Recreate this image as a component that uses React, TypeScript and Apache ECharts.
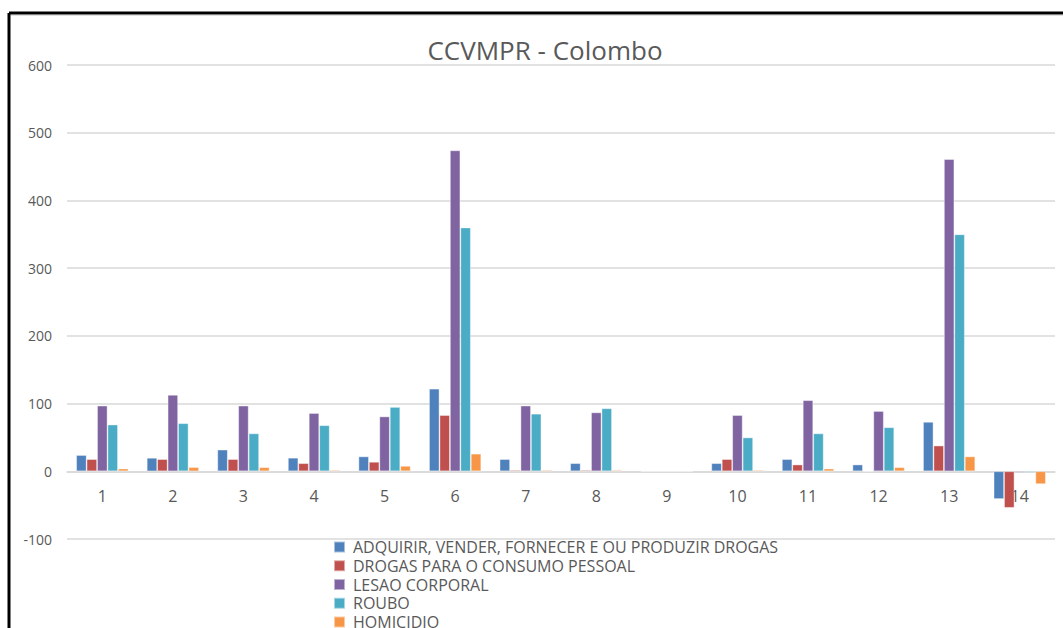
import React, { useEffect, useRef } from "react";
import * as echarts from "echarts";

const categories = ["1", "2", "3", "4", "5", "6", "7", "8", "9", "10", "11", "12", "13", "14"];
const seriesNames = [
  "ADQUIRIR, VENDER, FORNECER E OU PRODUZIR DROGAS",
  "DROGAS PARA O CONSUMO PESSOAL",
  "LESAO CORPORAL",
  "ROUBO",
  "HOMICIDIO",
];
const adquirir = [24, 20, 32, 20, 22, 122, 18, 12, 0, 12, 18, 10, 73, -41];
const drogasConsumo = [18, 18, 18, 12, 14, 83, 2, 2, 0, 18, 10, 0, 38, -54];
const lesaoCorporal = [97, 113, 97, 86, 81, 474, 97, 87, 0, 83, 105, 89, 461, -2];
const roubo = [69, 71, 56, 68, 95, 360, 85, 93, 0, 50, 56, 65, 350, -2];
const homicidio = [4, 6, 6, 2, 8, 26, 2, 2, 0, 2, 4, 6, 22, -19];
const seriesData = [adquirir, drogasConsumo, lesaoCorporal, roubo, homicidio];
const colors = ["#4F81BD", "#C0504D", "#8064A2", "#4BACC6", "#F79646"];
const yTicks = { min: -100, max: 600, interval: 100 };

const FONT = "'Open Sans', 'Noto Sans', sans-serif";
const GRID_TOP = 65;
const GRID_BOTTOM = 89;
const CHART_H = 628;

export default function App() {
  const ref = useRef<HTMLDivElement>(null);
  useEffect(() => {
    if (!ref.current) return;
    const chart = echarts.init(ref.current, undefined, { renderer: "svg" });
    const plotH = CHART_H - GRID_TOP - GRID_BOTTOM;
    const zeroOffset = -((0 - yTicks.min) / (yTicks.max - yTicks.min)) * plotH;
    chart.setOption({
      animation: false,
      color: colors,
      backgroundColor: "#ffffff",
      title: {
        text: "CCVMPR - Colombo",
        left: 540,
        textAlign: "center",
        top: 32,
        textStyle: { fontFamily: FONT, fontSize: 26, fontWeight: "normal", color: "#595959" },
      },
      legend: {
        orient: "vertical",
        left: 328,
        top: 533.5,
        height: 140,
        itemWidth: 11,
        itemHeight: 11,
        itemGap: 1.75,
        icon: "rect",
        data: seriesNames,
        textStyle: {
          fontFamily: FONT,
          fontSize: 16,
          lineHeight: 17,
          color: "#595959",
          padding: [0, 0, 0, 3],
        },
      },
      grid: { left: 67, right: 8, top: GRID_TOP, bottom: GRID_BOTTOM, containLabel: false },
      xAxis: {
        type: "category",
        data: categories,
        offset: zeroOffset,
        axisLine: { onZero: false, lineStyle: { color: "#d9d9d9", width: 1.5 } },
        axisTick: { show: false },
        axisLabel: { fontFamily: FONT, fontSize: 16, color: "#595959", margin: 17 },
      },
      yAxis: {
        type: "value",
        min: yTicks.min,
        max: yTicks.max,
        interval: yTicks.interval,
        axisLine: { show: false },
        axisTick: { show: false },
        splitLine: { lineStyle: { color: "#d9d9d9", width: 1.5 } },
        axisLabel: { fontFamily: FONT, fontSize: 14, color: "#595959", margin: 15 },
      },
      graphic: [
        { type: "line", shape: { x1: 9, y1: 13, x2: 1063, y2: 13 }, style: { stroke: "#000", lineWidth: 3 } },
        { type: "line", shape: { x1: 9, y1: 13, x2: 9, y2: 628 }, style: { stroke: "#000", lineWidth: 3 } },
        { type: "line", shape: { x1: 11, y1: 15.5, x2: 1063, y2: 15.5 }, style: { stroke: "#e0e0e0", lineWidth: 1 } },
      ],
      series: seriesNames.map((name, i) => ({
        name,
        type: "bar",
        data: seriesData[i],
        barGap: "0%",
        barCategoryGap: "26%",
        itemStyle: { color: colors[i], borderColor: "rgba(255,255,255,0.5)", borderWidth: 0.8 },
      })),
    });
    return () => chart.dispose();
  }, []);
  return (
    <div style={{ position: "fixed", left: 0, top: 0, width: 1063, height: 628 }}>
      <div ref={ref} style={{ width: 1063, height: 628 }} />
    </div>
  );
}
